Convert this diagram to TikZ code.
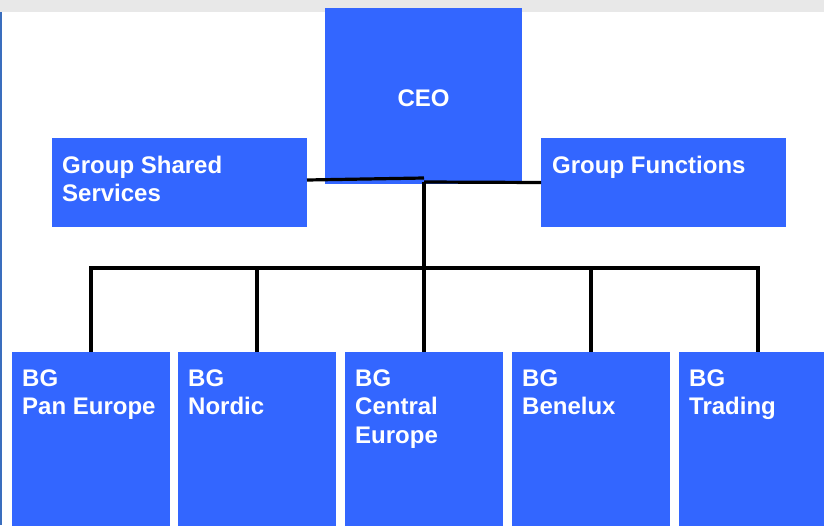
\documentclass[tikz,border=0pt]{standalone}
\usepackage{fontspec}
\setmainfont{Liberation Sans}
\definecolor{orgblue}{RGB}{51,102,255}
\definecolor{bandgray}{RGB}{232,232,232}
\definecolor{edgeblue}{RGB}{58,110,190}
\begin{document}
\begin{tikzpicture}[x=1pt,y=-1pt,
box/.style={fill=orgblue, draw=none, anchor=north west, inner sep=0, outer sep=0},
lbl/.style={text=white, font=\fontsize{24}{28.5}\selectfont\bfseries, align=left, anchor=north west, inner sep=0},
wire/.style={line width=3.2pt, black}]
\useasboundingbox (0,0) rectangle (824,525);
\fill[bandgray] (0,0) rectangle (824,12);
\fill[edgeblue] (0,12) rectangle (2,525);
\node[box, minimum width=197, minimum height=176] (ceo) at (325,8) {};
\node[box, minimum width=255, minimum height=89] (gss) at (52,138) {};
\node[box, minimum width=245, minimum height=89] (gf) at (541,138) {};
\node[box, minimum width=158, minimum height=180] (b1) at (12,352) {};
\node[box, minimum width=158, minimum height=180] (b2) at (178,352) {};
\node[box, minimum width=158, minimum height=180] (b3) at (345,352) {};
\node[box, minimum width=158, minimum height=180] (b4) at (512,352) {};
\node[box, minimum width=158, minimum height=180] (b5) at (679,352) {};
\node[lbl, anchor=center] (ceot) at (423.5,98.5) {CEO};
\node[lbl] (gsst) at ([xshift=10pt,yshift=-17.5pt]gss.north west) {Group Shared\\Services};
\node[lbl] (gft) at ([xshift=11pt,yshift=-17.5pt]gf.north west) {Group Functions};
\node[lbl] (b1t) at ([xshift=10pt,yshift=-17.5pt]b1.north west) {BG\\Pan Europe};
\node[lbl] (b2t) at ([xshift=10pt,yshift=-17.5pt]b2.north west) {BG\\Nordic};
\node[lbl] (b3t) at ([xshift=10pt,yshift=-17.5pt]b3.north west) {BG\\Central\\Europe};
\node[lbl] (b4t) at ([xshift=10pt,yshift=-17.5pt]b4.north west) {BG\\Benelux};
\node[lbl] (b5t) at ([xshift=10pt,yshift=-17.5pt]b5.north west) {BG\\Trading};
% joints under the CEO box
\coordinate (jl) at (424,178);
\coordinate (jr) at (424,182);
\coordinate (bus) at (424,268);
\draw[wire] ([yshift=2.5pt]gss.east) -- (jl);
\draw[wire] (jr) -- (gf.west);
\draw[wire] (jr) -- (bus);
\draw[wire] (b1.north) |- (bus) -| (b5.north);
\draw[wire] (b2.north) -- (b2.north |- bus);
\draw[wire] (b3.north) -- (bus);
\draw[wire] (b4.north) -- (b4.north |- bus);
\end{tikzpicture}
\end{document}
